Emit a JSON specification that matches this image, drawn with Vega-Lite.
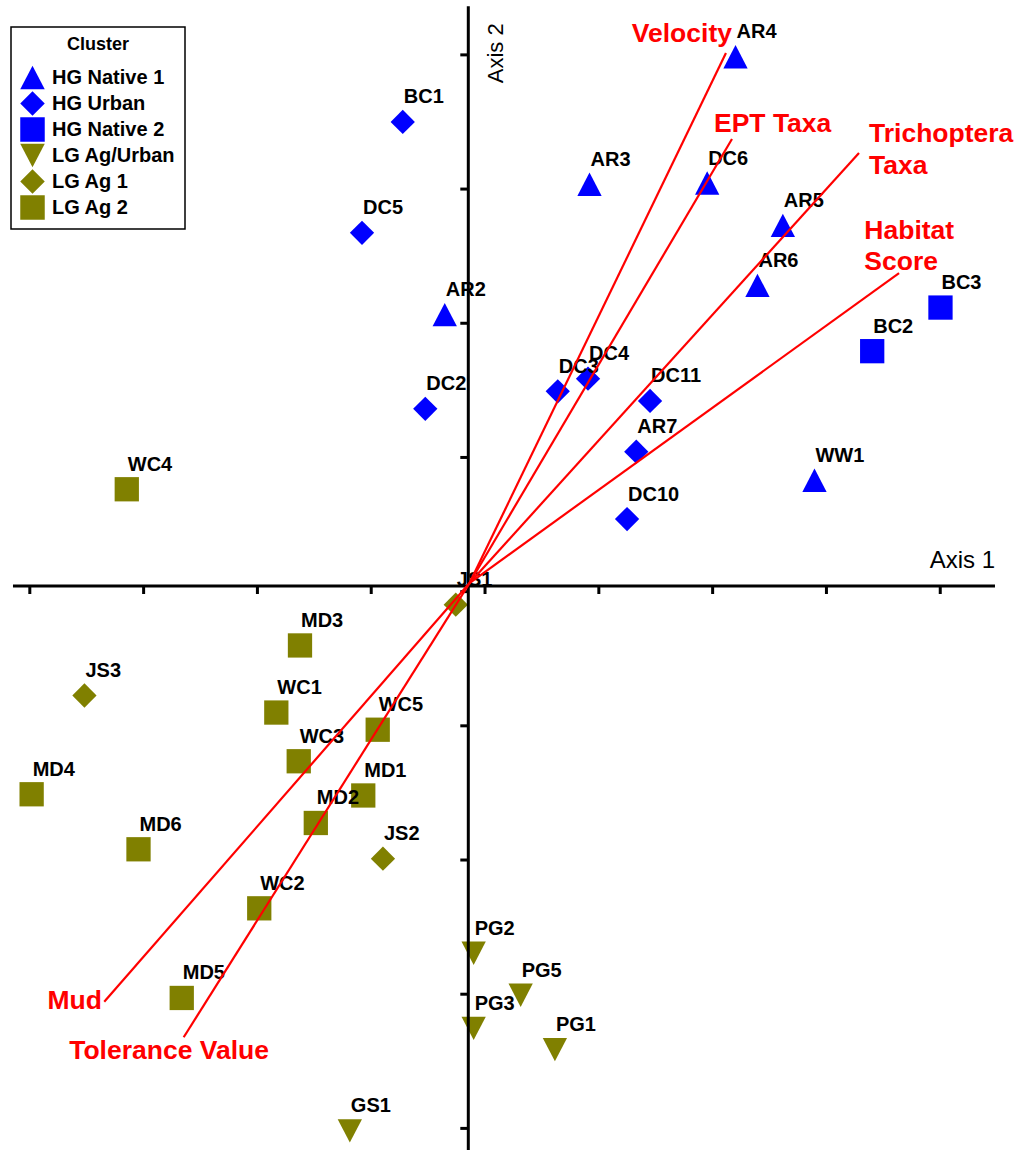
{
  "$schema": "https://vega.github.io/schema/vega-lite/v6.json",
  "width": 1019,
  "height": 1150,
  "padding": 0,
  "autosize": {"type": "none"},
  "background": "white",
  "config": {
    "view": {"stroke": null},
    "font": "Liberation Sans",
    "legend": {
      "orient": "none",
      "legendX": 11,
      "legendY": 27,
      "padding": 9,
      "strokeColor": "black",
      "strokeWidth": 1.5,
      "fillColor": "white",
      "cornerRadius": 0,
      "titleFont": "Liberation Sans",
      "titleFontSize": 18,
      "titleFontWeight": "bold",
      "titleColor": "black",
      "titleAnchor": "middle",
      "titlePadding": 11,
      "labelFont": "Liberation Sans",
      "labelFontSize": 20,
      "labelFontWeight": "bold",
      "labelColor": "black",
      "labelOffset": 7,
      "symbolSize": 600,
      "symbolStrokeWidth": 0,
      "symbolOpacity": 1,
      "rowPadding": 1
    }
  },
  "datasets": {
    "sites": [
      {"site": "AR4", "cluster": "HG Native 1", "axis1": 2.348, "axis2": 3.944},
      {"site": "AR3", "cluster": "HG Native 1", "axis1": 1.065, "axis2": 2.994},
      {"site": "DC6", "cluster": "HG Native 1", "axis1": 2.099, "axis2": 3.003},
      {"site": "AR5", "cluster": "HG Native 1", "axis1": 2.764, "axis2": 2.688},
      {"site": "AR6", "cluster": "HG Native 1", "axis1": 2.541, "axis2": 2.241},
      {"site": "AR2", "cluster": "HG Native 1", "axis1": -0.207, "axis2": 2.023},
      {"site": "WW1", "cluster": "HG Native 1", "axis1": 3.042, "axis2": 0.788},
      {"site": "BC1", "cluster": "HG Urban", "axis1": -0.576, "axis2": 3.458},
      {"site": "DC5", "cluster": "HG Urban", "axis1": -0.934, "axis2": 2.632},
      {"site": "DC2", "cluster": "HG Urban", "axis1": -0.378, "axis2": 1.320},
      {"site": "DC3", "cluster": "HG Urban", "axis1": 0.786, "axis2": 1.451},
      {"site": "DC4", "cluster": "HG Urban", "axis1": 1.052, "axis2": 1.545},
      {"site": "DC11", "cluster": "HG Urban", "axis1": 1.597, "axis2": 1.379},
      {"site": "AR7", "cluster": "HG Urban", "axis1": 1.476, "axis2": 1.001},
      {"site": "DC10", "cluster": "HG Urban", "axis1": 1.395, "axis2": 0.499},
      {"site": "BC3", "cluster": "HG Native 2", "axis1": 4.149, "axis2": 2.075},
      {"site": "BC2", "cluster": "HG Native 2", "axis1": 3.549, "axis2": 1.750},
      {"site": "PG2", "cluster": "LG Ag/Urban", "axis1": 0.047, "axis2": -2.737},
      {"site": "PG5", "cluster": "LG Ag/Urban", "axis1": 0.460, "axis2": -3.050},
      {"site": "PG3", "cluster": "LG Ag/Urban", "axis1": 0.047, "axis2": -3.296},
      {"site": "PG1", "cluster": "LG Ag/Urban", "axis1": 0.761, "axis2": -3.455},
      {"site": "GS1", "cluster": "LG Ag/Urban", "axis1": -1.041, "axis2": -4.060},
      {"site": "JS1", "cluster": "LG Ag 1", "axis1": -0.110, "axis2": -0.139},
      {"site": "JS3", "cluster": "LG Ag 1", "axis1": -3.373, "axis2": -0.816},
      {"site": "JS2", "cluster": "LG Ag 1", "axis1": -0.750, "axis2": -2.032},
      {"site": "WC4", "cluster": "LG Ag 2", "axis1": -3.001, "axis2": 0.721},
      {"site": "MD3", "cluster": "LG Ag 2", "axis1": -1.479, "axis2": -0.443},
      {"site": "WC1", "cluster": "LG Ag 2", "axis1": -1.687, "axis2": -0.943},
      {"site": "WC5", "cluster": "LG Ag 2", "axis1": -0.796, "axis2": -1.071},
      {"site": "WC3", "cluster": "LG Ag 2", "axis1": -1.490, "axis2": -1.306},
      {"site": "MD4", "cluster": "LG Ag 2", "axis1": -3.837, "axis2": -1.552},
      {"site": "MD1", "cluster": "LG Ag 2", "axis1": -0.923, "axis2": -1.561},
      {"site": "MD2", "cluster": "LG Ag 2", "axis1": -1.340, "axis2": -1.766},
      {"site": "MD6", "cluster": "LG Ag 2", "axis1": -2.898, "axis2": -1.962},
      {"site": "WC2", "cluster": "LG Ag 2", "axis1": -1.837, "axis2": -2.402},
      {"site": "MD5", "cluster": "LG Ag 2", "axis1": -2.518, "axis2": -3.070}
    ],
    "vectors": [
      {"variable": "Velocity", "label": "Velocity", "x0": 0.011, "y0": 0.022, "axis1": 2.264, "axis2": 3.972},
      {"variable": "EPT", "label": "EPT Taxa", "x0": 0.011, "y0": 0.022, "axis1": 2.317, "axis2": 3.331},
      {"variable": "Trichoptera", "label": "Trichoptera\nTaxa", "x0": 0.011, "y0": 0.022, "axis1": 3.433, "axis2": 3.227},
      {"variable": "Habitat", "label": "Habitat\nScore", "x0": 0.011, "y0": 0.022, "axis1": 3.785, "axis2": 2.332},
      {"variable": "Mud", "label": "Mud", "x0": 0.011, "y0": 0.022, "axis1": -3.199, "axis2": -3.098},
      {"variable": "Tolerance", "label": "Tolerance Value", "x0": 0.011, "y0": 0.022, "axis1": -2.501, "axis2": -3.363}
    ],
    "axisLines": [
      {"axis1": -4.001, "axis2": 0, "axis1b": 4.628, "axis2b": 0},
      {"axis1": 0, "axis2": 4.32, "axis1b": 0, "axis2b": -4.203}
    ],
    "xticks": [
      {"axis1": -3.853, "axis2": 0}, {"axis1": -2.853, "axis2": 0}, {"axis1": -1.853, "axis2": 0},
      {"axis1": -0.853, "axis2": 0}, {"axis1": 0.147, "axis2": 0}, {"axis1": 1.147, "axis2": 0},
      {"axis1": 2.147, "axis2": 0}, {"axis1": 3.147, "axis2": 0}, {"axis1": 4.147, "axis2": 0}
    ],
    "yticks": [
      {"axis1": 0, "axis2": 3.958}, {"axis1": 0, "axis2": 2.958}, {"axis1": 0, "axis2": 1.958},
      {"axis1": 0, "axis2": 0.958}, {"axis1": 0, "axis2": -0.042}, {"axis1": 0, "axis2": -1.042},
      {"axis1": 0, "axis2": -2.042}, {"axis1": 0, "axis2": -3.042}, {"axis1": 0, "axis2": -4.042}
    ],
    "axisTitles": [
      {"label": "Axis 1", "axis1": 4.628, "axis2": 0},
      {"label": "Axis 2", "axis1": 0, "axis2": 4.32}
    ]
  },
  "layer": [
    {
      "data": {"name": "sites"},
      "mark": {"type": "point", "filled": true, "opacity": 1, "size": 590, "strokeWidth": 0},
      "encoding": {
        "x": {"field": "axis1", "type": "quantitative", "scale": {"domain": [-4.115, 4.839], "nice": false, "zero": false}, "axis": null},
        "y": {"field": "axis2", "type": "quantitative", "scale": {"domain": [-4.203, 4.367], "nice": false, "zero": false}, "axis": null},
        "shape": {
          "field": "cluster", "type": "nominal", "title": "Cluster",
          "scale": {
            "domain": ["HG Native 1", "HG Urban", "HG Native 2", "LG Ag/Urban", "LG Ag 1", "LG Ag 2"],
            "range": ["M0,-0.96L1,0.96L-1,0.96Z", "diamond", "square", "M0,0.96L1,-0.96L-1,-0.96Z", "diamond", "square"]
          }
        },
        "color": {
          "field": "cluster", "type": "nominal", "title": "Cluster",
          "scale": {
            "domain": ["HG Native 1", "HG Urban", "HG Native 2", "LG Ag/Urban", "LG Ag 1", "LG Ag 2"],
            "range": ["#0000FF", "#0000FF", "#0000FF", "#808000", "#808000", "#808000"]
          }
        }
      }
    },
    {
      "data": {"name": "sites"},
      "mark": {"type": "text", "align": "left", "baseline": "alphabetic", "dx": 1, "dy": -18.5, "fontSize": 20, "fontWeight": "bold", "font": "Liberation Sans", "color": "black"},
      "encoding": {
        "x": {"field": "axis1", "type": "quantitative", "scale": {"domain": [-4.115, 4.839], "nice": false, "zero": false}, "axis": null},
        "y": {"field": "axis2", "type": "quantitative", "scale": {"domain": [-4.203, 4.367], "nice": false, "zero": false}, "axis": null},
        "text": {"field": "site"}
      }
    },
    {
      "data": {"name": "axisLines"},
      "mark": {"type": "rule", "color": "black", "strokeWidth": 3},
      "encoding": {
        "x": {"field": "axis1", "type": "quantitative", "scale": {"domain": [-4.115, 4.839], "nice": false, "zero": false}, "axis": null},
        "y": {"field": "axis2", "type": "quantitative", "scale": {"domain": [-4.203, 4.367], "nice": false, "zero": false}, "axis": null},
        "x2": {"field": "axis1b"},
        "y2": {"field": "axis2b"}
      }
    },
    {
      "data": {"name": "xticks"},
      "mark": {"type": "tick", "orient": "vertical", "color": "black", "size": 8, "thickness": 3, "yOffset": 4, "opacity": 1},
      "encoding": {
        "x": {"field": "axis1", "type": "quantitative", "scale": {"domain": [-4.115, 4.839], "nice": false, "zero": false}, "axis": null},
        "y": {"field": "axis2", "type": "quantitative", "scale": {"domain": [-4.203, 4.367], "nice": false, "zero": false}, "axis": null}
      }
    },
    {
      "data": {"name": "yticks"},
      "mark": {"type": "tick", "orient": "horizontal", "color": "black", "size": 8, "thickness": 3, "xOffset": -4, "opacity": 1},
      "encoding": {
        "x": {"field": "axis1", "type": "quantitative", "scale": {"domain": [-4.115, 4.839], "nice": false, "zero": false}, "axis": null},
        "y": {"field": "axis2", "type": "quantitative", "scale": {"domain": [-4.203, 4.367], "nice": false, "zero": false}, "axis": null}
      }
    },
    {
      "data": {"name": "axisTitles"},
      "transform": [{"filter": "datum.label === 'Axis 1'"}],
      "mark": {"type": "text", "align": "right", "baseline": "alphabetic", "dx": 0, "dy": -18, "fontSize": 24, "font": "Liberation Sans", "color": "black"},
      "encoding": {
        "x": {"field": "axis1", "type": "quantitative", "scale": {"domain": [-4.115, 4.839], "nice": false, "zero": false}, "axis": null},
        "y": {"field": "axis2", "type": "quantitative", "scale": {"domain": [-4.203, 4.367], "nice": false, "zero": false}, "axis": null},
        "text": {"field": "label"}
      }
    },
    {
      "data": {"name": "axisTitles"},
      "transform": [{"filter": "datum.label === 'Axis 2'"}],
      "mark": {"type": "text", "align": "right", "baseline": "alphabetic", "angle": 270, "dx": -17, "dy": 35, "fontSize": 22, "font": "Liberation Sans", "color": "black"},
      "encoding": {
        "x": {"field": "axis1", "type": "quantitative", "scale": {"domain": [-4.115, 4.839], "nice": false, "zero": false}, "axis": null},
        "y": {"field": "axis2", "type": "quantitative", "scale": {"domain": [-4.203, 4.367], "nice": false, "zero": false}, "axis": null},
        "text": {"field": "label"}
      }
    },
    {
      "data": {"name": "vectors"},
      "mark": {"type": "rule", "color": "#FF0000", "strokeWidth": 2.2},
      "encoding": {
        "x": {"field": "x0", "type": "quantitative", "scale": {"domain": [-4.115, 4.839], "nice": false, "zero": false}, "axis": null},
        "y": {"field": "y0", "type": "quantitative", "scale": {"domain": [-4.203, 4.367], "nice": false, "zero": false}, "axis": null},
        "x2": {"field": "axis1"},
        "y2": {"field": "axis2"}
      }
    },
    {
      "data": {"name": "vectors"},
      "transform": [{"filter": "datum.variable === 'Velocity'"}],
      "mark": {"type": "text", "align": "right", "baseline": "alphabetic", "dx": 6, "dy": -11, "fontSize": 26.5, "fontWeight": "bold", "font": "Liberation Sans", "color": "#FF0000"},
      "encoding": {
        "x": {"field": "axis1", "type": "quantitative", "scale": {"domain": [-4.115, 4.839], "nice": false, "zero": false}, "axis": null},
        "y": {"field": "axis2", "type": "quantitative", "scale": {"domain": [-4.203, 4.367], "nice": false, "zero": false}, "axis": null},
        "text": {"field": "label"}
      }
    },
    {
      "data": {"name": "vectors"},
      "transform": [{"filter": "datum.variable === 'EPT'"}],
      "mark": {"type": "text", "align": "left", "baseline": "alphabetic", "dx": -18, "dy": -7, "fontSize": 26.5, "fontWeight": "bold", "font": "Liberation Sans", "color": "#FF0000"},
      "encoding": {
        "x": {"field": "axis1", "type": "quantitative", "scale": {"domain": [-4.115, 4.839], "nice": false, "zero": false}, "axis": null},
        "y": {"field": "axis2", "type": "quantitative", "scale": {"domain": [-4.203, 4.367], "nice": false, "zero": false}, "axis": null},
        "text": {"field": "label"}
      }
    },
    {
      "data": {"name": "vectors"},
      "transform": [{"filter": "datum.variable === 'Trichoptera'"}],
      "mark": {"type": "text", "align": "left", "baseline": "alphabetic", "dx": 10, "dy": -11, "lineBreak": "\n", "lineHeight": 31.6, "fontSize": 26.5, "fontWeight": "bold", "font": "Liberation Sans", "color": "#FF0000"},
      "encoding": {
        "x": {"field": "axis1", "type": "quantitative", "scale": {"domain": [-4.115, 4.839], "nice": false, "zero": false}, "axis": null},
        "y": {"field": "axis2", "type": "quantitative", "scale": {"domain": [-4.203, 4.367], "nice": false, "zero": false}, "axis": null},
        "text": {"field": "label"}
      }
    },
    {
      "data": {"name": "vectors"},
      "transform": [{"filter": "datum.variable === 'Habitat'"}],
      "mark": {"type": "text", "align": "left", "baseline": "alphabetic", "dx": -34.7, "dy": -33.7, "lineBreak": "\n", "lineHeight": 31, "fontSize": 26.5, "fontWeight": "bold", "font": "Liberation Sans", "color": "#FF0000"},
      "encoding": {
        "x": {"field": "axis1", "type": "quantitative", "scale": {"domain": [-4.115, 4.839], "nice": false, "zero": false}, "axis": null},
        "y": {"field": "axis2", "type": "quantitative", "scale": {"domain": [-4.203, 4.367], "nice": false, "zero": false}, "axis": null},
        "text": {"field": "label"}
      }
    },
    {
      "data": {"name": "vectors"},
      "transform": [{"filter": "datum.variable === 'Mud'"}],
      "mark": {"type": "text", "align": "right", "baseline": "alphabetic", "dx": -2.3, "dy": 7.6, "fontSize": 26.5, "fontWeight": "bold", "font": "Liberation Sans", "color": "#FF0000"},
      "encoding": {
        "x": {"field": "axis1", "type": "quantitative", "scale": {"domain": [-4.115, 4.839], "nice": false, "zero": false}, "axis": null},
        "y": {"field": "axis2", "type": "quantitative", "scale": {"domain": [-4.203, 4.367], "nice": false, "zero": false}, "axis": null},
        "text": {"field": "label"}
      }
    },
    {
      "data": {"name": "vectors"},
      "transform": [{"filter": "datum.variable === 'Tolerance'"}],
      "mark": {"type": "text", "align": "left", "baseline": "alphabetic", "dx": -114.5, "dy": 21.3, "fontSize": 26.5, "fontWeight": "bold", "font": "Liberation Sans", "color": "#FF0000"},
      "encoding": {
        "x": {"field": "axis1", "type": "quantitative", "scale": {"domain": [-4.115, 4.839], "nice": false, "zero": false}, "axis": null},
        "y": {"field": "axis2", "type": "quantitative", "scale": {"domain": [-4.203, 4.367], "nice": false, "zero": false}, "axis": null},
        "text": {"field": "label"}
      }
    }
  ]
}
